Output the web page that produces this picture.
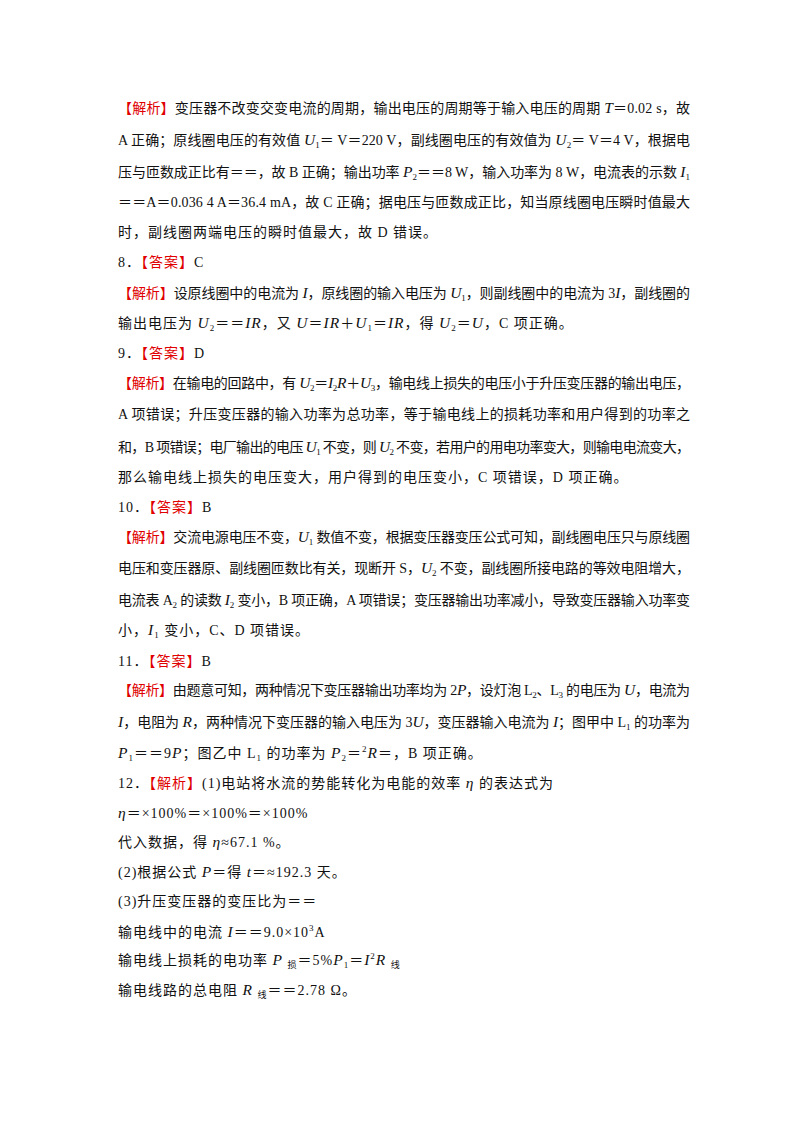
<!DOCTYPE html>
<html><head><meta charset="utf-8">
<script src="https://cdn.jsdelivr.net/npm/chart.js@4"></script>
<style>
body{margin:0;background:#fff;width:800px;height:1132px;position:relative;overflow:hidden;}
.l{position:absolute;left:118px;font-family:"Liberation Serif","Noto Sans CJK SC",serif;font-size:14px;color:#111;white-space:nowrap;line-height:20px;}
.l i{font-size:15.5px}
.r{color:#e00000;}
i{font-style:italic;}
.l sub{font-size:9px;vertical-align:-3px;line-height:0}
.l sup{font-size:9px;vertical-align:6px;line-height:0}
</style></head><body>
<script>
const R='<span class="r">【解析】</span>';
const A='<span class="r">【答案】</span>';
const lineY=[108,140,172,203,233,263,293,323,354,383,415,447,478,508,537,568,600,630,662,690,722,753,783,813,842,872,902,932,960,990];
const lineJust=[1,1,1,1,0,0,1,0,0,1,1,1,0,0,1,1,1,0,0,1,1,0,0,0,0,0,0,0,0,0];
const lineText=[
R+'变压器不改变交变电流的周期，输出电压的周期等于输入电压的周期 <i>T</i>＝0.02 s，故',
'A 正确；原线圈电压的有效值 <i>U</i><sub>1</sub>＝ V＝220 V，副线圈电压的有效值为 <i>U</i><sub>2</sub>＝ V＝4 V，根据电',
'压与匝数成正比有＝＝，故 B 正确；输出功率 <i>P</i><sub>2</sub>＝＝8 W，输入功率为 8 W，电流表的示数 <i>I</i><sub>1</sub>',
'＝＝A＝0.036 4 A＝36.4 mA，故 C 正确；据电压与匝数成正比，知当原线圈电压瞬时值最大',
'时，副线圈两端电压的瞬时值最大，故 D 错误。',
'8．'+A+'C',
R+'设原线圈中的电流为 <i>I</i>，原线圈的输入电压为 <i>U</i><sub>1</sub>，则副线圈中的电流为 3<i>I</i>，副线圈的',
'输出电压为 <i>U</i><sub>2</sub>＝＝<i>IR</i>，又 <i>U</i>＝<i>IR</i>＋<i>U</i><sub>1</sub>＝<i>IR</i>，得 <i>U</i><sub>2</sub>＝<i>U</i>，C 项正确。',
'9．'+A+'D',
R+'在输电的回路中，有 <i>U</i><sub>2</sub>＝<i>I</i><sub>2</sub><i>R</i>＋<i>U</i><sub>3</sub>，输电线上损失的电压小于升压变压器的输出电压，',
'A 项错误；升压变压器的输入功率为总功率，等于输电线上的损耗功率和用户得到的功率之',
'和，B 项错误；电厂输出的电压 <i>U</i><sub>1</sub> 不变，则 <i>U</i><sub>2</sub> 不变，若用户的用电功率变大，则输电电流变大，',
'那么输电线上损失的电压变大，用户得到的电压变小，C 项错误，D 项正确。',
'10．'+A+'B',
R+'交流电源电压不变，<i>U</i><sub>1</sub> 数值不变，根据变压器变压公式可知，副线圈电压只与原线圈',
'电压和变压器原、副线圈匝数比有关，现断开 S，<i>U</i><sub>2</sub> 不变，副线圈所接电路的等效电阻增大，',
'电流表 A<sub>2</sub> 的读数 <i>I</i><sub>2</sub> 变小，B 项正确，A 项错误；变压器输出功率减小，导致变压器输入功率变',
'小，<i>I</i><sub>1</sub> 变小，C、D 项错误。',
'11．'+A+'B',
R+'由题意可知，两种情况下变压器输出功率均为 2<i>P</i>，设灯泡 L<sub>2</sub>、L<sub>3</sub> 的电压为 <i>U</i>，电流为',
'<i>I</i>，电阻为 <i>R</i>，两种情况下变压器的输入电压为 3<i>U</i>，变压器输入电流为 <i>I</i>；图甲中 L<sub>1</sub> 的功率为',
'<i>P</i><sub>1</sub>＝＝9<i>P</i>；图乙中 L<sub>1</sub> 的功率为 <i>P</i><sub>2</sub>＝<sup>2</sup><i>R</i>＝，B 项正确。',
'12．'+R+'(1)电站将水流的势能转化为电能的效率 <i>η</i> 的表达式为',
'<i>η</i>＝×100%＝×100%＝×100%',
'代入数据，得 <i>η</i>≈67.1 %。',
'(2)根据公式 <i>P</i>＝得 <i>t</i>＝≈192.3 天。',
'(3)升压变压器的变压比为＝＝',
'输电线中的电流 <i>I</i>＝＝9.0×10<sup>3</sup>A',
'输电线上损耗的电功率 <i>P</i> <sub>损</sub>＝5%<i>P</i><sub>1</sub>＝<i>I</i><sup>2</sup><i>R</i> <sub>线</sub>',
'输电线路的总电阻 <i>R</i> <sub>线</sub>＝＝2.78 Ω。'
];
const W=572;
lineText.forEach((t,k)=>{
  const d=document.createElement('div');
  d.className='l';
  d.style.top=(lineY[k]-10)+'px';
  d.innerHTML=t;
  document.body.appendChild(d);
  const n=d.textContent.length;
  const w=d.getBoundingClientRect().width;
  if(lineJust[k]) d.style.letterSpacing=((W-w)/(n-1))+'px';
  else d.style.letterSpacing='1px';
});
</script>
</body></html>
